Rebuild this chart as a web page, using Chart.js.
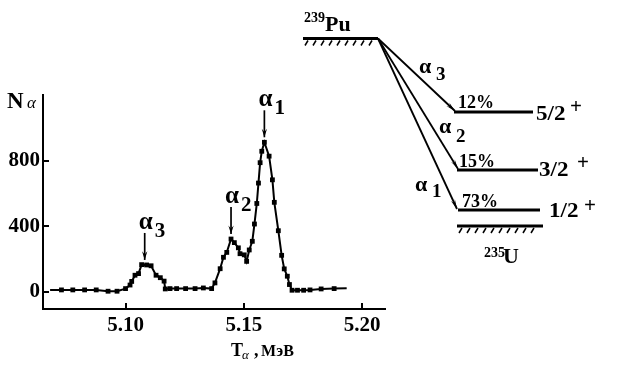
<!DOCTYPE html>
<html>
<head>
<meta charset="utf-8">
<script src="https://cdn.jsdelivr.net/npm/chart.js@4.4.1/dist/chart.umd.min.js"></script>
<style>
  html, body { margin: 0; padding: 0; background: #fff; }
  #wrap { width: 622px; height: 372px; }
</style>
</head>
<body>
<div id="wrap"><canvas id="c" width="622" height="372" style="width:622px;height:372px"></canvas></div>
<script>
// ---- data ----
const energies = [5.0729, 5.0777, 5.0827, 5.0876, 5.0926, 5.0964, 5.1000, 5.1019, 5.1026, 5.1040,
  5.1055, 5.1068, 5.1089, 5.1108, 5.1129, 5.1147, 5.1163, 5.1168, 5.1188, 5.1216,
  5.1254, 5.1294, 5.1329, 5.1364, 5.1378, 5.1400, 5.1414, 5.1428, 5.1446, 5.1460,
  5.1477, 5.1484, 5.1502, 5.1512, 5.1523, 5.1536, 5.1545, 5.1555, 5.1562, 5.1569,
  5.1576, 5.1587, 5.1607, 5.1621, 5.1629, 5.1646, 5.1660, 5.1671, 5.1684, 5.1693,
  5.1704, 5.1727, 5.1753, 5.1780, 5.1827, 5.1882];
const counts = [10, 10, 10, 10, 2, 2, 18, 40, 62, 100,
  110, 165, 163, 158, 100, 85, 64, 16, 18, 18,
  18, 18, 22, 18, 53, 140, 210, 240, 322, 300,
  268, 232, 225, 185, 255, 308, 414, 540, 665, 790,
  860, 915, 830, 685, 547, 373, 222, 139, 94, 43,
  8, 8, 8, 10, 16, 18];
const curveStart = [5.0681, 10];   // line begins before the first marker
const curveEnd = [5.1935, 20];     // and runs past the last one
const xTicks = [5.10, 5.15, 5.20];
const yTicks = [0, 400, 800];
const peakNames = ['1', '2', '3'];
const peakEnergies = [5.1587, 5.1446, 5.1081];
const peakCounts = [915, 322, 163];
const branching = ['73%', '15%', '12%'];
const spins = ['1/2', '3/2', '5/2'];
const parentNucleus = ['239', 'Pu'];
const daughterNucleus = ['235', 'U'];
const xTitle = ['T', 'α', ',', 'МэВ'];
const yTitle = ['N', 'α'];

// ---- build chart ----
const points = energies.map((e, i) => ({ x: e, y: counts[i] }));
const curve = [{ x: curveStart[0], y: curveStart[1] }, ...points, { x: curveEnd[0], y: curveEnd[1] }];

const SERIF = '"Liberation Serif", "Times New Roman", serif';

function txt(ctx, s, x, y, font, sx, align) {
  ctx.save();
  ctx.font = font;
  ctx.fillStyle = '#000';
  ctx.textAlign = align || 'left';
  ctx.textBaseline = 'alphabetic';
  ctx.translate(x, y);
  ctx.scale(sx || 1, 1);
  ctx.fillText(s, 0, 0);
  ctx.restore();
}
function line(ctx, x1, y1, x2, y2, w) {
  ctx.beginPath();
  ctx.lineWidth = w;
  ctx.moveTo(x1, y1);
  ctx.lineTo(x2, y2);
  ctx.stroke();
}
function arrow(ctx, x1, y1, x2, y2, w, head, spread) {
  line(ctx, x1, y1, x2, y2, w);
  const a = Math.atan2(y2 - y1, x2 - x1);
  ctx.beginPath();
  ctx.moveTo(x2, y2);
  ctx.lineTo(x2 - head * Math.cos(a - spread), y2 - head * Math.sin(a - spread));
  ctx.lineTo(x2 - head * 0.6 * Math.cos(a), y2 - head * 0.6 * Math.sin(a));
  ctx.lineTo(x2 - head * Math.cos(a + spread), y2 - head * Math.sin(a + spread));
  ctx.closePath();
  ctx.fill();
}
function hatch(ctx, x1, x2, y, step) {
  ctx.lineWidth = 1.5;
  for (let x = x1; x <= x2; x += step) {
    ctx.beginPath();
    ctx.moveTo(x, y + 6);
    ctx.lineTo(x + 3, y + 1);
    ctx.stroke();
  }
}

const decorPlugin = {
  id: 'decor',
  afterDraw(chart) {
    const ctx = chart.ctx;
    const xs = chart.scales.x, ys = chart.scales.y;
    const area = chart.chartArea;
    ctx.save();
    ctx.strokeStyle = '#000';
    ctx.fillStyle = '#000';
    ctx.lineCap = 'butt';

    // inward tick marks
    xTicks.forEach(v => {
      const px = Math.round(xs.getPixelForValue(v));
      line(ctx, px, area.bottom, px, area.bottom - 6, 2);
    });
    yTicks.forEach(v => {
      const py = Math.round(ys.getPixelForValue(v));
      line(ctx, area.left, py, area.left + 6, py, 2);
    });

    // axis titles
    txt(ctx, yTitle[0], 7, 108, 'bold 23px ' + SERIF);
    txt(ctx, yTitle[1], 27, 108, 'italic 17px ' + SERIF);
    txt(ctx, xTitle[0], 231, 356, 'bold 18px ' + SERIF);
    txt(ctx, xTitle[1], 242, 359, 'italic 13px ' + SERIF);
    txt(ctx, xTitle[2], 254, 356, 'bold 18px ' + SERIF);
    txt(ctx, xTitle[3], 261, 356, 'bold 16px ' + SERIF);

    // peak arrows with labels
    peakEnergies.forEach((e, i) => {
      const px = xs.getPixelForValue(e);
      const tip = ys.getPixelForValue(peakCounts[i]) - 5;
      const top = tip - 27;
      arrow(ctx, px, top, px, tip, 1.7, 9, 0.3);
      txt(ctx, 'α', px - 6, top - 4, 'bold 25px ' + SERIF);
      txt(ctx, peakNames[i], px + 10, top + 4, 'bold 21px ' + SERIF);
    });

    // decay scheme
    const ox = 378, oy = 38.5;
    txt(ctx, parentNucleus[0], 304, 22, 'bold 14px ' + SERIF);
    txt(ctx, parentNucleus[1], 325, 31, 'bold 22px ' + SERIF);
    line(ctx, 303, oy, ox, oy, 3);
    hatch(ctx, 305, 372, oy + 1, 8);

    // levels: index 0 = 1/2+, 1 = 3/2+, 2 = 5/2+
    const levels = [
      { y: 210, x1: 458, x2: 540, end: [457, 209], pct: [462, 207], spin: [549, 217], plus: [584, 212], lab: [415, 191], sub: [432, 197] },
      { y: 170, x1: 457, x2: 538, end: [458, 169], pct: [459, 167], spin: [539, 176], plus: [577, 169], lab: [439, 133], sub: [456, 142] },
      { y: 112, x1: 454, x2: 533, end: [455, 111], pct: [458, 108], spin: [536, 120], plus: [570, 113], lab: [419, 73], sub: [436, 80] }
    ];
    levels.forEach((L, i) => {
      line(ctx, L.x1, L.y, L.x2, L.y, 3);
      arrow(ctx, ox, oy, L.end[0], L.end[1], 1.8, 10, 0.22);
      txt(ctx, branching[i], L.pct[0], L.pct[1], 'bold 18px ' + SERIF);
      txt(ctx, spins[i], L.spin[0], L.spin[1], 'bold 21px ' + SERIF, 1.1);
      txt(ctx, '+', L.plus[0], L.plus[1], 'bold 21px ' + SERIF);
      txt(ctx, 'α', L.lab[0], L.lab[1], 'bold 22px ' + SERIF);
      txt(ctx, peakNames[i], L.sub[0], L.sub[1], 'bold 19px ' + SERIF);
    });

    line(ctx, 457, 226, 543, 226, 3);
    hatch(ctx, 459, 538, 227, 8);
    txt(ctx, daughterNucleus[0], 484, 257, 'bold 14px ' + SERIF);
    txt(ctx, daughterNucleus[1], 503, 263, 'bold 22px ' + SERIF);
    ctx.restore();
  }
};

new Chart(document.getElementById('c'), {
  type: 'scatter',
  data: {
    datasets: [
      { data: curve, showLine: true, borderColor: '#000', borderWidth: 2, pointRadius: 0, tension: 0, fill: false },
      { data: points, showLine: false, pointStyle: 'rect', pointRadius: 3.4, backgroundColor: '#000', borderColor: '#000', borderWidth: 0 }
    ]
  },
  options: {
    responsive: false,
    devicePixelRatio: 1,
    animation: false,
    events: [],
    layout: { padding: { top: 95, right: 237, left: 0, bottom: 0 } },
    plugins: { legend: { display: false }, tooltip: { enabled: false } },
    scales: {
      x: {
        type: 'linear',
        min: 5.0651, max: 5.2097,
        afterBuildTicks: s => { s.ticks = xTicks.map(v => ({ value: v })); },
        afterFit: s => { s.height = 63; },
        grid: { display: false, drawTicks: false, tickLength: 0 },
        border: { display: true, color: '#000', width: 2 },
        ticks: { color: '#000', font: { family: SERIF, size: 21, weight: 'bold' }, padding: 4, maxRotation: 0,
                 callback: v => v.toFixed(2) }
      },
      y: {
        type: 'linear',
        min: -107, max: 1205,
        afterBuildTicks: s => { s.ticks = yTicks.map(v => ({ value: v })); },
        afterFit: s => { s.width = 43; },
        grid: { display: false, drawTicks: false, tickLength: 0 },
        border: { display: true, color: '#000', width: 2 },
        ticks: { color: '#000', font: { family: SERIF, size: 21, weight: 'bold' }, padding: 3,
                 callback: v => String(v) }
      }
    }
  },
  plugins: [decorPlugin]
});
</script>
</body>
</html>
